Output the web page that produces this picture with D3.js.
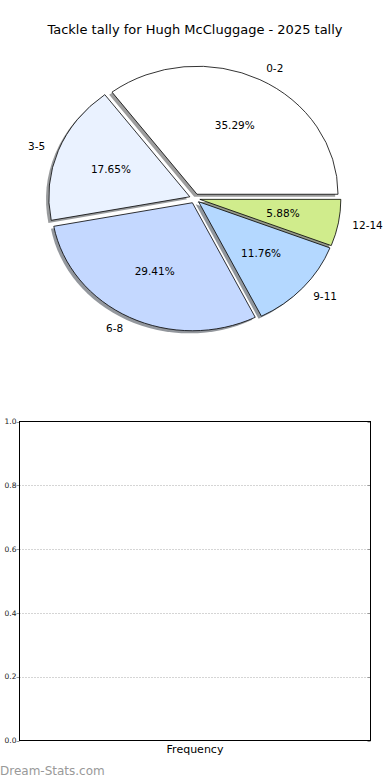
<!doctype html>
<html>
<head>
<meta charset="UTF-8">
<title>tackle tally</title>
<script src="https://d3js.org/d3.v7.min.js"></script>
<style>
  body { margin: 0; background: #fff; }
  text { font-family: "DejaVu Sans", sans-serif; fill: #000; }
</style>
</head>
<body>
<svg id="chart" width="390" height="780"></svg>
<script>
// data
var labels = ["0-2", "3-5", "6-8", "9-11", "12-14"];
var counts = [6, 3, 5, 2, 1];
var colors = ["#ffffff", "#eaf2ff", "#c4d8ff", "#b4d8ff", "#d0ec8c"];
var yTicks = [0, 0.2, 0.4, 0.6, 0.8, 1.0];

var svg = d3.select("#chart");

svg.append("text")
  .attr("x", 195).attr("y", 34)
  .attr("text-anchor", "middle")
  .attr("font-size", 13)
  .text("Tackle tally for Hugh McCluggage - 2025 tally");

// ---- pie (drawn on a unit circle, stretched into an ellipse like matplotlib's unequal axes)
var cx = 194.7, cy = 198.5, rx = 141, ry = 128, explode = 0.037;
var total = d3.sum(counts);

// matplotlib: start at 3 o'clock, counter-clockwise
var pie = d3.pie().sort(null).startAngle(Math.PI / 2).endAngle(Math.PI / 2 - 2 * Math.PI);
var arcs = pie(counts);
var arc = d3.arc().innerRadius(0).outerRadius(1);

function mid(d) { return (d.startAngle + d.endAngle) / 2; }
function px(a, r) { return cx + Math.sin(a) * r * rx; }
function py(a, r) { return cy - Math.cos(a) * r * ry; }

var g = svg.append("g");

// shadows first
g.selectAll("path.shadow").data(arcs).enter().append("path")
  .attr("class", "shadow")
  .attr("d", arc)
  .attr("transform", function(d) {
    var a = mid(d);
    var ox = Math.sin(a) * explode * rx - 0.02 * rx;
    var oy = -Math.cos(a) * explode * ry + 0.02 * ry;
    return "translate(" + (cx + ox) + "," + (cy + oy) + ") scale(" + rx + "," + ry + ")";
  })
  .attr("fill", function(d, i) {
    var c = d3.rgb(colors[i]);
    return d3.rgb(c.r * 0.3, c.g * 0.3, c.b * 0.3);
  })
  .attr("fill-opacity", 0.55)
  .attr("stroke", "none");

g.selectAll("path.slice").data(arcs).enter().append("path")
  .attr("class", "slice")
  .attr("d", arc)
  .attr("transform", function(d) {
    var a = mid(d);
    var ox = Math.sin(a) * explode * rx;
    var oy = -Math.cos(a) * explode * ry;
    return "translate(" + (cx + ox) + "," + (cy + oy) + ") scale(" + rx + "," + ry + ")";
  })
  .attr("fill", function(d, i) { return colors[i]; })
  .attr("stroke", "#000")
  .attr("stroke-width", 0.8)
  .attr("vector-effect", "non-scaling-stroke");

// outer labels at 1.1 r
g.selectAll("text.lab").data(arcs).enter().append("text")
  .attr("class", "lab")
  .attr("x", function(d) { return px(mid(d), 1.1 + explode); })
  .attr("y", function(d) { return py(mid(d), 1.1 + explode); })
  .attr("dy", "0.35em")
  .attr("text-anchor", function(d) { return Math.sin(mid(d)) > 0 ? "start" : "end"; })
  .attr("font-size", 10.5)
  .text(function(d, i) { return labels[i]; });

// percentages at 0.6 r
g.selectAll("text.pct").data(arcs).enter().append("text")
  .attr("class", "pct")
  .attr("x", function(d) { return px(mid(d), 0.6 + explode); })
  .attr("y", function(d) { return py(mid(d), 0.6 + explode); })
  .attr("dy", "0.35em")
  .attr("text-anchor", "middle")
  .attr("font-size", 10.5)
  .text(function(d) { return (d.value / total * 100).toFixed(2) + "%"; });

// ---- empty frequency panel
var x0 = 19.5, x1 = 370.5, y0 = 421.5, y1 = 740.5;
var y = d3.scaleLinear().domain([0, 1]).range([y1, y0]);

var grid = svg.append("g");
grid.selectAll("line").data(yTicks.slice(1, -1)).enter().append("line")
  .attr("x1", x0).attr("x2", x1)
  .attr("y1", function(d) { return Math.round(y(d)) + 0.5; })
  .attr("y2", function(d) { return Math.round(y(d)) + 0.5; })
  .attr("stroke", "#aaa")
  .attr("stroke-width", 1)
  .attr("stroke-dasharray", "1,2");

// small tick marks
var ticks = svg.append("g");
ticks.selectAll("line.l").data(yTicks).enter().append("line")
  .attr("class", "l")
  .attr("x1", x0 - 3).attr("x2", x0)
  .attr("y1", function(d) { return Math.round(y(d)) + 0.5; })
  .attr("y2", function(d) { return Math.round(y(d)) + 0.5; })
  .attr("stroke", "#999");
ticks.selectAll("line.r").data(yTicks).enter().append("line")
  .attr("class", "r")
  .attr("x1", x1 - 3).attr("x2", x1)
  .attr("y1", function(d) { return Math.round(y(d)) + 0.5; })
  .attr("y2", function(d) { return Math.round(y(d)) + 0.5; })
  .attr("stroke", "#999");

svg.append("rect")
  .attr("x", x0).attr("y", y0)
  .attr("width", x1 - x0).attr("height", y1 - y0)
  .attr("fill", "none")
  .attr("stroke", "#000")
  .attr("stroke-width", 1);

svg.append("g").selectAll("text").data(yTicks).enter().append("text")
  .attr("x", x0 - 3)
  .attr("y", function(d) { return y(d); })
  .attr("dy", "0.35em")
  .attr("text-anchor", "end")
  .attr("font-size", 7.5)
  .style("fill", "#222")
  .text(function(d) { return d.toFixed(1); });

svg.append("text")
  .attr("x", (x0 + x1) / 2).attr("y", 753)
  .attr("text-anchor", "middle")
  .attr("font-size", 11)
  .text("Frequency");

svg.append("text")
  .attr("x", 0).attr("y", 775)
  .attr("font-size", 12)
  .style("fill", "#999")
  .text("Dream-Stats.com");
</script>
</body>
</html>
